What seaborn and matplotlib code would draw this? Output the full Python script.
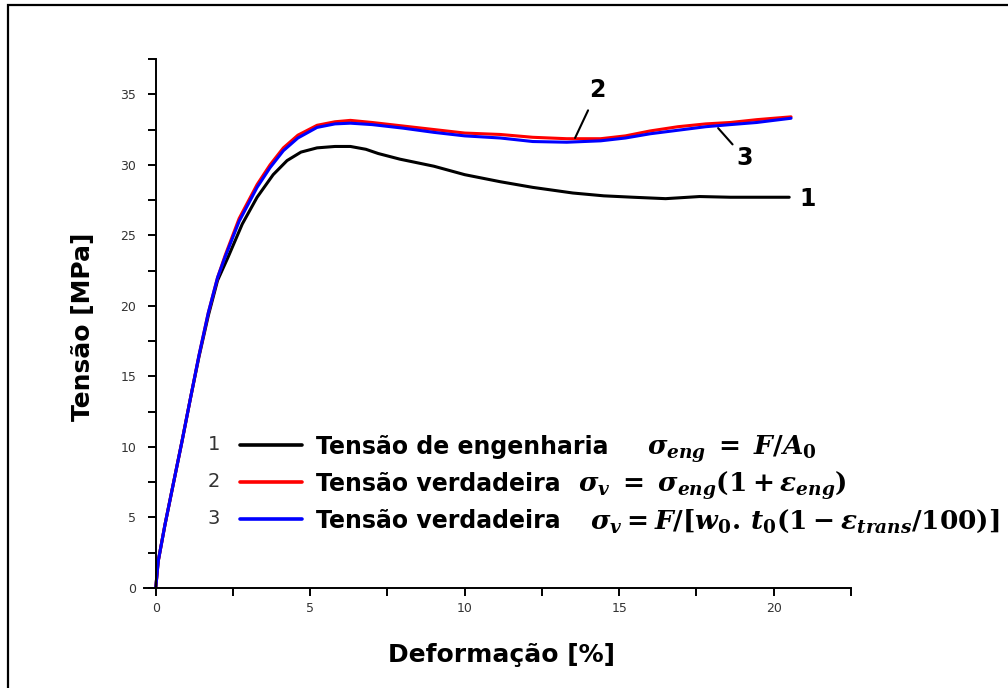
import matplotlib
matplotlib.use("Agg")
import matplotlib.pyplot as plt
import seaborn as sns
from matplotlib.lines import Line2D
from matplotlib.patches import Rectangle
from matplotlib.ticker import MultipleLocator

# ── Dados ──────────────────────────────────────────────────────────────
eng_strain = [0, 0.08, 0.3, 0.57, 0.85, 1.11, 1.4, 1.7, 2.0, 2.35, 2.8, 3.28,
              3.8, 4.25, 4.7, 5.22, 5.8, 6.3, 6.8, 7.2, 7.9, 9.0, 10.0, 11.15,
              12.2, 13.5, 14.5, 15.45, 16.5, 17.6, 18.6, 19.6, 20.5]
eng_stress = [0, 1.9, 4.5, 7.4, 10.4, 13.3, 16.4, 19.3, 21.8, 23.5, 25.8, 27.7,
              29.3, 30.3, 30.9, 31.2, 31.3, 31.3, 31.1, 30.8, 30.4, 29.9, 29.3,
              28.8, 28.4, 28.0, 27.8, 27.7, 27.6, 27.75, 27.7, 27.7, 27.7]

true_strain = [0, 0.08, 0.3, 0.57, 0.85, 1.11, 1.4, 1.7, 2.0, 2.25, 2.7, 3.28,
               3.7, 4.13, 4.6, 5.22, 5.8, 6.3, 7.0, 8.0, 9.0, 10.0, 11.15, 12.2,
               13.3, 14.4, 15.2, 16.0, 16.9, 17.8, 18.6, 19.45, 20.0, 20.56]
true_stress = [0, 1.9, 4.5, 7.4, 10.4, 13.3, 16.5, 19.5, 22.0, 23.6, 26.2, 28.6,
               30.0, 31.2, 32.1, 32.8, 33.05, 33.15, 33.0, 32.75, 32.5, 32.25,
               32.15, 31.95, 31.85, 31.85, 32.05, 32.4, 32.7, 32.9, 33.0, 33.2,
               33.3, 33.4]
trans_stress = [0, 1.9, 4.5, 7.4, 10.4, 13.3, 16.5, 19.5, 22.0, 23.5, 26.0, 28.4,
                29.8, 31.0, 31.9, 32.65, 32.9, 32.95, 32.85, 32.6, 32.3, 32.05,
                31.9, 31.65, 31.6, 31.7, 31.9, 32.2, 32.45, 32.7, 32.85, 33.0,
                33.15, 33.3]

labels = ["Tensão de engenharia", "Tensão verdadeira", "Tensão verdadeira"]
formulas = [
    r"$\sigma_{eng}\;=\;F/A_0$",
    r"$\sigma_v\;=\;\sigma_{eng}(1 + \varepsilon_{eng})$",
    r"$\sigma_v = F/[w_0.\,t_0(1 - \varepsilon_{trans}/100)]$",
]
colors = ["black", "#ff0000", "#0000ff"]

sns.set_style("ticks")
plt.rcParams["font.family"] = ["DejaVu Sans"]
plt.rcParams["text.color"] = "black"
plt.rcParams["axes.labelcolor"] = "black"
plt.rcParams["mathtext.fontset"] = "custom"
plt.rcParams["mathtext.it"] = "DejaVu Serif:italic:bold"
plt.rcParams["mathtext.rm"] = "DejaVu Serif:bold"
plt.rcParams["mathtext.bf"] = "DejaVu Serif:bold"

fig = plt.figure(figsize=(10.08, 6.88), dpi=100)
ax = fig.add_axes([144 / 1008, 100 / 688, 707 / 1008, 529 / 688])

series = [(eng_strain, eng_stress), (true_strain, true_stress), (true_strain, trans_stress)]
for (xs, ys), c in zip(series, colors):
    sns.lineplot(x=xs, y=ys, color=c, lw=2.2, sort=False, estimator=None, ax=ax)

ax.set_xlim(-0.38, 22.5)
ax.set_ylim(0, 37.5)
ax.spines["left"].set_position(("data", 0))
ax.spines["right"].set_visible(False)
ax.spines["top"].set_visible(False)
for s in ("left", "bottom"):
    ax.spines[s].set_linewidth(1.4)
    ax.spines[s].set_color("black")

ax.xaxis.set_major_locator(MultipleLocator(5))
ax.xaxis.set_minor_locator(MultipleLocator(2.5))
ax.yaxis.set_major_locator(MultipleLocator(5))
ax.yaxis.set_minor_locator(MultipleLocator(2.5))
ax.tick_params(which="both", direction="out", length=6, width=1.4, color="black")
ax.tick_params(axis="y", which="major", pad=8, labelsize=9, labelcolor="#333333")
ax.tick_params(axis="x", which="major", pad=4, labelsize=9, labelcolor="#333333")

ax.set_xlabel("Deformação [%]", fontsize=18, fontweight="bold", va="top")
ax.xaxis.set_label_coords(0.506, -0.104)
ax.set_ylabel("Tensão [MPa]", fontsize=18, fontweight="bold")
ax.yaxis.set_label_coords(-0.069, 0.494)

# Legenda (texto) + fórmulas ao lado
handles = [Line2D([], [], color=c, lw=2.6) for c in colors]
ax.legend(handles, labels, loc="upper left", bbox_to_anchor=(0.119, 0.312),
          frameon=False, borderpad=0, handlelength=2.63, handletextpad=0.6,
          labelspacing=0.55, prop={"weight": "bold", "size": 17})
for i, y in enumerate([0.272, 0.202, 0.132]):
    ax.text(0.099, y, str(i + 1), transform=ax.transAxes, fontsize=14,
            color="#333333", ha="center", va="center")
for f, xf, yb in zip(formulas, [0.711, 0.614, 0.631], [0.252, 0.182, 0.112]):
    ax.text(xf, yb, f, transform=ax.transAxes, fontsize=19, ha="left", va="baseline")

# Rótulos das curvas
ax.annotate("2", xy=(13.57, 31.9), xytext=(14.3, 35.3), fontsize=17, fontweight="bold",
            ha="center", va="center",
            arrowprops=dict(arrowstyle="-", color="black", lw=1.5, shrinkA=4, shrinkB=0))
ax.annotate("3", xy=(18.2, 32.6), xytext=(19.07, 30.45), fontsize=17, fontweight="bold",
            ha="center", va="center",
            arrowprops=dict(arrowstyle="-", color="black", lw=1.5, shrinkA=1, shrinkB=0))
ax.text(21.1, 27.6, "1", fontsize=17, fontweight="bold", ha="center", va="center")

# Moldura da figura
fig.add_artist(Rectangle((8 / 1008, -0.05), 1.2, 1 - 5 / 688 + 0.05,
                         transform=fig.transFigure, fill=False, lw=1.6, color="black"))

fig.savefig("out.png", dpi=100)
